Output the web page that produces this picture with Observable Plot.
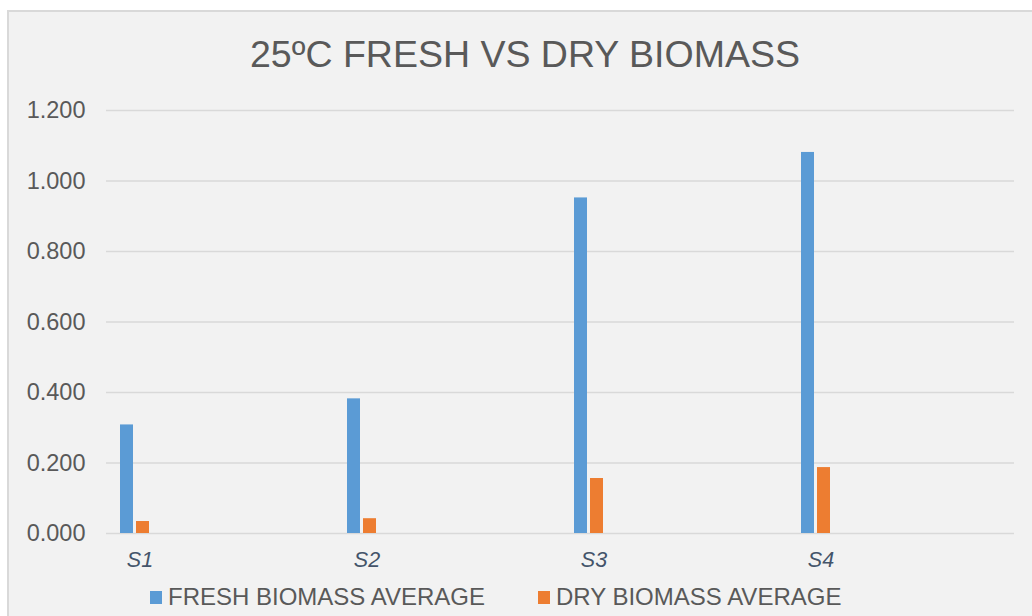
<!DOCTYPE html>
<html>
<head>
<meta charset="utf-8">
<script src="https://cdn.jsdelivr.net/npm/d3@7"></script>
<script src="https://cdn.jsdelivr.net/npm/@observablehq/plot@0.6"></script>
<style>
  html, body { margin: 0; padding: 0; background: #ffffff; }
  body { width: 1032px; height: 616px; position: relative; overflow: hidden; font-family: "Liberation Sans", Arial, sans-serif; }
  #panel { position: absolute; left: 7px; top: 10px; right: 0; bottom: 0; background: #f2f2f2; border-top: 2px solid #d9d9d9; border-left: 2px solid #d9d9d9; }
  #title { position: absolute; left: 0; width: 1050px; top: 36px; text-align: center; font-size: 37.5px; line-height: 37.5px; color: #595959; white-space: nowrap; }
  #chart { position: absolute; left: 0; top: 0; }
  #legend { position: absolute; left: 150px; top: 585px; display: flex; align-items: center; font-size: 24px; line-height: 24px; color: #595959; white-space: nowrap; }
  .item { display: flex; align-items: center; }
  .swatch { width: 12px; height: 13px; margin-right: 6px; }
</style>
</head>
<body>
<div id="panel"></div>
<div id="chart"></div>
<div id="title"></div>
<div id="legend"></div>
<script>
const titleText = "25ºC FRESH VS DRY BIOMASS";
const categories = ["S1", "S2", "S3", "S4"];
const seriesNames = ["FRESH BIOMASS AVERAGE", "DRY BIOMASS AVERAGE"];
const freshValues = [0.308, 0.382, 0.952, 1.081];
const dryValues = [0.034, 0.042, 0.156, 0.187];
const yTicks = [0, 0.2, 0.4, 0.6, 0.8, 1.0, 1.2];
const seriesColors = ["#5B9BD5", "#ED7D31"];

const data = categories.flatMap((c, i) => [
  {cat: c, series: seriesNames[0], value: freshValues[i]},
  {cat: c, series: seriesNames[1], value: dryValues[i]}
]);

const chart = Plot.plot({
  width: 1032,
  height: 616,
  marginLeft: 105,
  marginRight: 18,
  marginTop: 110,
  marginBottom: 83,
  style: {background: "transparent", fontFamily: "'Liberation Sans', Arial, sans-serif", fontSize: "23.5px", color: "#595959", overflow: "visible"},
  fx: {domain: categories, padding: 0, axis: null, label: null},
  x: {domain: seriesNames, range: [119, 148], paddingInner: 0.1875, paddingOuter: 0, axis: null, label: null},
  y: {domain: [0, 1.2], ticks: yTicks, tickFormat: d3.format(".3f"), tickSize: 0, tickPadding: 21, label: null, grid: false},
  color: {domain: seriesNames, range: seriesColors},
  marks: [
    Plot.ruleY(yTicks, {stroke: "#d9d9d9", strokeWidth: 1.6}),
    Plot.barY(data, {fx: "cat", x: "series", y: "value", fill: "series"}),
    Plot.text(categories, {fx: d => d, x: () => seriesNames[0], text: d => d, frameAnchor: "bottom", dx: 13, dy: 33,
      fill: "#44546A", fontSize: 21.5, fontStyle: "italic", fontFamily: "'Liberation Sans', Arial, sans-serif"})
  ]
});
document.getElementById("chart").appendChild(chart);
document.getElementById("title").textContent = titleText;

const legend = document.getElementById("legend");
seriesNames.forEach((name, i) => {
  const item = document.createElement("div");
  item.className = "item";
  if (i < seriesNames.length - 1) item.style.marginRight = "53px";
  const sw = document.createElement("div");
  sw.className = "swatch";
  sw.style.background = seriesColors[i];
  const label = document.createElement("span");
  label.textContent = name;
  item.appendChild(sw);
  item.appendChild(label);
  legend.appendChild(item);
});
</script>
</body>
</html>
